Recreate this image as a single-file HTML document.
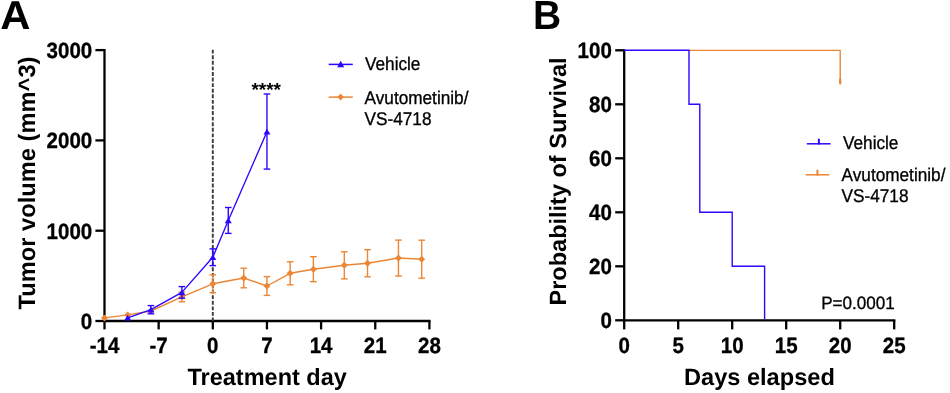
<!DOCTYPE html><html><head><meta charset="utf-8"><style>html,body{margin:0;padding:0;background:#fff;}svg{display:block;will-change:transform;}text{font-family:"Liberation Sans",sans-serif;text-rendering:geometricPrecision;}.b{font-weight:bold;}</style></head><body>
<svg width="950" height="393" viewBox="0 0 950 393">
<rect width="950" height="393" fill="#fff"/>
<text class="b" transform="translate(0.2 29.4) scale(1.04 1)" font-size="40.2" fill="#000">A</text>
<text class="b" transform="translate(533.0 29.05) scale(0.955 1)" font-size="40.8" fill="#000">B</text>
<g stroke="#000" stroke-width="2.3" fill="none" stroke-linecap="butt">
<line x1="104.5" y1="48.95" x2="104.5" y2="321.0"/>
<line x1="103.35" y1="321.0" x2="430.56" y2="321.0"/>
<line x1="95.4" y1="321.00" x2="104.5" y2="321.00"/>
<line x1="95.4" y1="230.70" x2="104.5" y2="230.70"/>
<line x1="95.4" y1="140.40" x2="104.5" y2="140.40"/>
<line x1="95.4" y1="50.10" x2="104.5" y2="50.10"/>
<line x1="104.50" y1="321.0" x2="104.50" y2="329.4"/>
<line x1="158.65" y1="321.0" x2="158.65" y2="329.4"/>
<line x1="212.80" y1="321.0" x2="212.80" y2="329.4"/>
<line x1="266.95" y1="321.0" x2="266.95" y2="329.4"/>
<line x1="321.10" y1="321.0" x2="321.10" y2="329.4"/>
<line x1="375.26" y1="321.0" x2="375.26" y2="329.4"/>
<line x1="429.41" y1="321.0" x2="429.41" y2="329.4"/>
</g>
<g class="b" font-size="20.5" fill="#000" stroke="#000" stroke-width="0.3">
<text transform="translate(92.2 328.90) scale(1 1.08)" text-anchor="end">0</text>
<text transform="translate(92.2 238.60) scale(1 1.08)" text-anchor="end">1000</text>
<text transform="translate(92.2 148.30) scale(1 1.08)" text-anchor="end">2000</text>
<text transform="translate(92.2 58.00) scale(1 1.08)" text-anchor="end">3000</text>
<text transform="translate(104.50 352.5) scale(1 1.08)" text-anchor="middle">-14</text>
<text transform="translate(158.65 352.5) scale(1 1.08)" text-anchor="middle">-7</text>
<text transform="translate(212.80 352.5) scale(1 1.08)" text-anchor="middle">0</text>
<text transform="translate(266.95 352.5) scale(1 1.08)" text-anchor="middle">7</text>
<text transform="translate(321.10 352.5) scale(1 1.08)" text-anchor="middle">14</text>
<text transform="translate(375.26 352.5) scale(1 1.08)" text-anchor="middle">21</text>
<text transform="translate(429.41 352.5) scale(1 1.08)" text-anchor="middle">28</text>
</g>
<text class="b" font-size="23.7" text-anchor="middle" transform="translate(34.9 183) rotate(-90)">Tumor volume (mm^3)</text>
<text class="b" font-size="23.5" text-anchor="middle" x="267.2" y="385.3">Treatment day</text>
<line x1="212.8" y1="49.7" x2="212.8" y2="321.0" stroke="#3a3a3a" stroke-width="1.9" stroke-dasharray="3.9 1.68"/>
<g stroke="#ec8634" stroke-width="1.4" fill="none"><line x1="181.86" y1="292.1" x2="181.86" y2="301.8"/><line x1="178.56" y1="292.1" x2="185.16" y2="292.1"/><line x1="178.56" y1="301.8" x2="185.16" y2="301.8"/><line x1="212.80" y1="274.8" x2="212.80" y2="292.7"/><line x1="209.50" y1="274.8" x2="216.10" y2="274.8"/><line x1="209.50" y1="292.7" x2="216.10" y2="292.7"/><line x1="243.74" y1="268.2" x2="243.74" y2="287.8"/><line x1="240.44" y1="268.2" x2="247.04" y2="268.2"/><line x1="240.44" y1="287.8" x2="247.04" y2="287.8"/><line x1="266.95" y1="276.6" x2="266.95" y2="295.4"/><line x1="263.65" y1="276.6" x2="270.25" y2="276.6"/><line x1="263.65" y1="295.4" x2="270.25" y2="295.4"/><line x1="290.16" y1="261.8" x2="290.16" y2="284.8"/><line x1="286.86" y1="261.8" x2="293.46" y2="261.8"/><line x1="286.86" y1="284.8" x2="293.46" y2="284.8"/><line x1="313.37" y1="256.7" x2="313.37" y2="281.7"/><line x1="310.07" y1="256.7" x2="316.67" y2="256.7"/><line x1="310.07" y1="281.7" x2="316.67" y2="281.7"/><line x1="344.31" y1="251.8" x2="344.31" y2="278.9"/><line x1="341.01" y1="251.8" x2="347.61" y2="251.8"/><line x1="341.01" y1="278.9" x2="347.61" y2="278.9"/><line x1="367.52" y1="249.7" x2="367.52" y2="276.8"/><line x1="364.22" y1="249.7" x2="370.82" y2="249.7"/><line x1="364.22" y1="276.8" x2="370.82" y2="276.8"/><line x1="398.46" y1="240.1" x2="398.46" y2="276.0"/><line x1="395.16" y1="240.1" x2="401.76" y2="240.1"/><line x1="395.16" y1="276.0" x2="401.76" y2="276.0"/><line x1="421.67" y1="240.2" x2="421.67" y2="278.2"/><line x1="418.37" y1="240.2" x2="424.97" y2="240.2"/><line x1="418.37" y1="278.2" x2="424.97" y2="278.2"/></g>
<polyline points="104.50,317.9 127.70,314.9 150.91,311.0 181.86,296.9 212.80,283.8 243.74,278.0 266.95,286.0 290.16,273.3 313.37,269.2 344.31,265.3 367.52,263.2 398.46,258.0 421.67,259.2" fill="none" stroke="#ec8634" stroke-width="1.4" stroke-linejoin="round"/>
<path d="M104.50 314.40L108.00 317.90L104.50 321.40L101.00 317.90Z" fill="#ec8634"/>
<path d="M127.70 311.40L131.20 314.90L127.70 318.40L124.20 314.90Z" fill="#ec8634"/>
<path d="M150.91 307.50L154.41 311.00L150.91 314.50L147.41 311.00Z" fill="#ec8634"/>
<path d="M181.86 293.40L185.36 296.90L181.86 300.40L178.36 296.90Z" fill="#ec8634"/>
<path d="M212.80 280.30L216.30 283.80L212.80 287.30L209.30 283.80Z" fill="#ec8634"/>
<path d="M243.74 274.50L247.24 278.00L243.74 281.50L240.24 278.00Z" fill="#ec8634"/>
<path d="M266.95 282.50L270.45 286.00L266.95 289.50L263.45 286.00Z" fill="#ec8634"/>
<path d="M290.16 269.80L293.66 273.30L290.16 276.80L286.66 273.30Z" fill="#ec8634"/>
<path d="M313.37 265.70L316.87 269.20L313.37 272.70L309.87 269.20Z" fill="#ec8634"/>
<path d="M344.31 261.80L347.81 265.30L344.31 268.80L340.81 265.30Z" fill="#ec8634"/>
<path d="M367.52 259.70L371.02 263.20L367.52 266.70L364.02 263.20Z" fill="#ec8634"/>
<path d="M398.46 254.50L401.96 258.00L398.46 261.50L394.96 258.00Z" fill="#ec8634"/>
<path d="M421.67 255.70L425.17 259.20L421.67 262.70L418.17 259.20Z" fill="#ec8634"/>
<g stroke="#2a08ff" stroke-width="1.4" fill="none"><line x1="150.91" y1="305.6" x2="150.91" y2="313.8"/><line x1="147.61" y1="305.6" x2="154.21" y2="305.6"/><line x1="147.61" y1="313.8" x2="154.21" y2="313.8"/><line x1="181.86" y1="286.6" x2="181.86" y2="298.2"/><line x1="178.56" y1="286.6" x2="185.16" y2="286.6"/><line x1="178.56" y1="298.2" x2="185.16" y2="298.2"/><line x1="212.80" y1="248.9" x2="212.80" y2="265.6"/><line x1="209.50" y1="248.9" x2="216.10" y2="248.9"/><line x1="209.50" y1="265.6" x2="216.10" y2="265.6"/><line x1="228.27" y1="207.5" x2="228.27" y2="233.4"/><line x1="224.97" y1="207.5" x2="231.57" y2="207.5"/><line x1="224.97" y1="233.4" x2="231.57" y2="233.4"/><line x1="266.95" y1="94.0" x2="266.95" y2="169.1"/><line x1="263.65" y1="94.0" x2="270.25" y2="94.0"/><line x1="263.65" y1="169.1" x2="270.25" y2="169.1"/></g>
<polyline points="127.70,317.8 150.91,309.7 181.86,292.4 212.80,257.3 228.27,220.5 266.95,131.8" fill="none" stroke="#2a08ff" stroke-width="1.35" stroke-linejoin="round"/>
<path d="M127.70 314.80L131.20 320.60L124.20 320.60Z" fill="#2a08ff"/>
<path d="M150.91 306.70L154.41 312.50L147.41 312.50Z" fill="#2a08ff"/>
<path d="M181.86 289.40L185.36 295.20L178.36 295.20Z" fill="#2a08ff"/>
<path d="M212.80 254.30L216.30 260.10L209.30 260.10Z" fill="#2a08ff"/>
<path d="M228.27 217.50L231.77 223.30L224.77 223.30Z" fill="#2a08ff"/>
<path d="M266.95 128.80L270.45 134.60L263.45 134.60Z" fill="#2a08ff"/>
<text class="b" font-size="19" x="266.2" y="96.1" text-anchor="middle">****</text>
<line x1="328.7" y1="64.4" x2="352.8" y2="64.4" stroke="#2a08ff" stroke-width="1.5"/>
<path d="M340.7 60.7L344.2 67.2L337.2 67.2Z" fill="#2a08ff"/>
<line x1="328.7" y1="97.1" x2="352.8" y2="97.1" stroke="#ec8634" stroke-width="1.5"/>
<path d="M340.6 93.8L343.9 97.1L340.6 100.4L337.3 97.1Z" fill="#ec8634"/>
<g font-size="17.2" fill="#000" stroke="#000" stroke-width="0.3">
<text transform="translate(365 70.1) scale(1 1.07)">Vehicle</text>
<text transform="translate(364.6 103.5) scale(1 1.07)">Avutometinib/</text>
<text transform="translate(364.6 124.8) scale(1 1.07)">VS-4718</text>
</g>
<g stroke="#000" stroke-width="2.3" fill="none">
<line x1="624.2" y1="49.15" x2="624.2" y2="320.3"/>
<line x1="623.05" y1="320.3" x2="895.35" y2="320.3"/>
<line x1="615.2" y1="320.30" x2="624.2" y2="320.30"/>
<line x1="615.2" y1="266.30" x2="624.2" y2="266.30"/>
<line x1="615.2" y1="212.30" x2="624.2" y2="212.30"/>
<line x1="615.2" y1="158.30" x2="624.2" y2="158.30"/>
<line x1="615.2" y1="104.30" x2="624.2" y2="104.30"/>
<line x1="615.2" y1="50.30" x2="624.2" y2="50.30"/>
<line x1="624.20" y1="320.3" x2="624.20" y2="329.4"/>
<line x1="678.20" y1="320.3" x2="678.20" y2="329.4"/>
<line x1="732.20" y1="320.3" x2="732.20" y2="329.4"/>
<line x1="786.20" y1="320.3" x2="786.20" y2="329.4"/>
<line x1="840.20" y1="320.3" x2="840.20" y2="329.4"/>
<line x1="894.20" y1="320.3" x2="894.20" y2="329.4"/>
</g>
<g class="b" font-size="20.5" fill="#000" stroke="#000" stroke-width="0.3">
<text transform="translate(611.8 328.20) scale(1 1.08)" text-anchor="end">0</text>
<text transform="translate(611.8 274.20) scale(1 1.08)" text-anchor="end">20</text>
<text transform="translate(611.8 220.20) scale(1 1.08)" text-anchor="end">40</text>
<text transform="translate(611.8 166.20) scale(1 1.08)" text-anchor="end">60</text>
<text transform="translate(611.8 112.20) scale(1 1.08)" text-anchor="end">80</text>
<text transform="translate(611.8 58.20) scale(1 1.08)" text-anchor="end">100</text>
<text transform="translate(624.20 352.5) scale(1 1.08)" text-anchor="middle">0</text>
<text transform="translate(678.20 352.5) scale(1 1.08)" text-anchor="middle">5</text>
<text transform="translate(732.20 352.5) scale(1 1.08)" text-anchor="middle">10</text>
<text transform="translate(786.20 352.5) scale(1 1.08)" text-anchor="middle">15</text>
<text transform="translate(840.20 352.5) scale(1 1.08)" text-anchor="middle">20</text>
<text transform="translate(894.20 352.5) scale(1 1.08)" text-anchor="middle">25</text>
</g>
<text class="b" font-size="23.5" text-anchor="middle" transform="translate(565.6 181.4) rotate(-90)">Probability of Survival</text>
<text class="b" font-size="23.6" text-anchor="middle" x="759.4" y="384.7">Days elapsed</text>
<path d="M689.00 50.40H840.20V79.2" fill="none" stroke="#ec8634" stroke-width="1.4"/>
<line x1="840.20" y1="79.6" x2="840.20" y2="83.4" stroke="#ec8634" stroke-width="2.3" stroke-linecap="round"/>
<path d="M624.20 50.30H689.00V104.30H699.80V212.30H732.20V266.30H764.60V319.30" fill="none" stroke="#2a08ff" stroke-width="1.4"/>
<line x1="806.8" y1="143.8" x2="830.6" y2="143.8" stroke="#2a08ff" stroke-width="1.5"/>
<line x1="818.9" y1="139.6" x2="818.9" y2="143.8" stroke="#2a08ff" stroke-width="2" stroke-linecap="round"/>
<line x1="805.6" y1="174.8" x2="829.2" y2="174.8" stroke="#ec8634" stroke-width="1.5"/>
<line x1="817.4" y1="170.6" x2="817.4" y2="174.8" stroke="#ec8634" stroke-width="2" stroke-linecap="round"/>
<g font-size="17.2" fill="#000" stroke="#000" stroke-width="0.3">
<text transform="translate(843 149.2) scale(1 1.07)">Vehicle</text>
<text transform="translate(841.6 180.5) scale(1 1.07)">Avutometinib/</text>
<text transform="translate(841.6 202.1) scale(1 1.07)">VS-4718</text>
<text transform="translate(821.2 309) scale(1 1.05)" font-size="17.1">P=0.0001</text>
</g>
</svg></body></html>
